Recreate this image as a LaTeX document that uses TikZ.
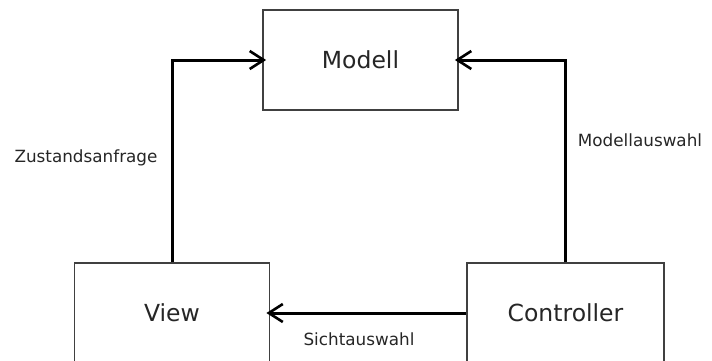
\documentclass[tikz,border=0pt]{standalone}
\usepackage{fontspec}
\setmainfont{DejaVu Sans}
\usetikzlibrary{arrows.meta}
\begin{document}
\begin{tikzpicture}[x=1pt,y=-1pt,
  box/.style={draw=black!75,line width=1.8pt,fill=white,minimum width=195pt,minimum height=100pt,
    inner sep=0pt,font=\fontsize{23.5}{27}\selectfont,text=black!85},
  conn/.style={draw=black,line width=3pt,shorten >=-4pt,
    -{Straight Barb[length=14pt,width=18pt,line width=2.6pt]}},
  lbl/.style={font=\fontsize{16.8}{19}\selectfont,text=black!85,inner sep=0pt}]
  \useasboundingbox (0,0) rectangle (712,360);
  \clip (0,0) rectangle (712,360);
  % the three components
  \node[box] (modell) at (360.5,60) {Modell};
  \node[box] (view) at (172,313) {View};
  \node[box,minimum width=197pt] (controller) at (565.5,313) {Controller};
  % connections between them
  \draw[conn] (view.north) |- (modell.west);
  \draw[conn] (controller.north) |- (modell.east);
  \draw[conn] (controller.west) -- (view.east);
  % connection labels
  \node[lbl] (zustand) at (86,158) {Zustandsanfrage};
  \node[lbl] (modellwahl) at (640,140) {Modellauswahl};
  \node[lbl] (sicht) at (359,339) {Sichtauswahl};
\end{tikzpicture}
\end{document}
